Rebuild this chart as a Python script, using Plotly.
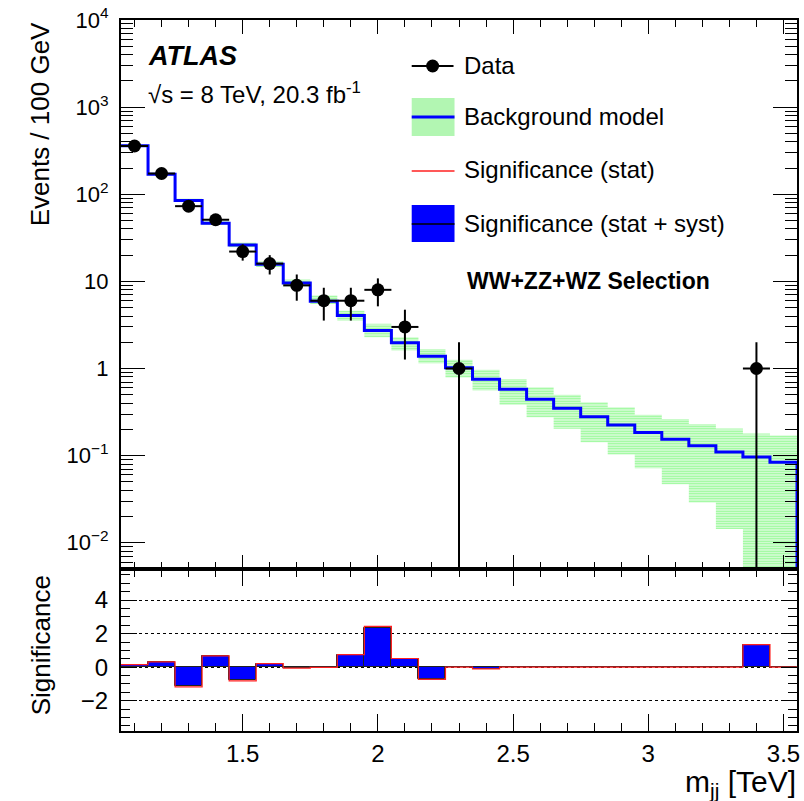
import math
import plotly.graph_objects as go

# ---------------- data ----------------
centers = [1.1, 1.2, 1.3, 1.4, 1.5, 1.6, 1.7, 1.8, 1.9, 2.0, 2.1, 2.2, 2.3,
           2.4, 2.5, 2.6, 2.7, 2.8, 2.9, 3.0, 3.1, 3.2, 3.3, 3.4, 3.5]
data_counts = [358, 173, 73, 51, 22, 16, 9, 6, 6, 8, 3, 0, 1,
               0, 0, 0, 0, 0, 0, 0, 0, 0, 0, 1, 0]
bkg = [360, 170, 85, 46.5, 26.2, 15.7, 9.6, 5.9, 4.07, 2.73, 1.97, 1.38, 1.02,
       0.753, 0.578, 0.443, 0.35, 0.279, 0.225, 0.184, 0.154, 0.13, 0.11, 0.0966, 0.0838]
bkg_hi = [372, 176, 89, 48.8, 27.9, 16.9, 10.6, 6.9, 4.6, 3.26, 2.29, 1.68, 1.26,
          0.97, 0.76, 0.61, 0.50, 0.41, 0.36, 0.294, 0.264, 0.231, 0.205, 0.18, 0.17]
bkg_lo = [349, 164, 81.5, 44.4, 24.7, 14.6, 8.8, 5.5, 3.53, 2.29, 1.61, 1.15, 0.79,
          0.56, 0.385, 0.275, 0.203, 0.142, 0.103, 0.0715, 0.047, 0.029, 0.0144, 0.001, 0.001]
sig_stat_syst = [0.12, 0.30, -1.09, 0.66, -0.76, 0.20, -0.04, -0.01, 0.72, 2.33, 0.50, -0.68, 0.0,
                 -0.10, 0.0, 0.0, 0.0, 0.0, 0.0, 0.0, 0.0, 0.0, 0.0, 1.34, 0.0]
sig_stat = [0.15, 0.32, -1.17, 0.68, -0.82, 0.21, -0.05, -0.01, 0.75, 2.43, 0.52, -0.72, 0.0,
            -0.10, 0.0, 0.0, 0.0, 0.0, 0.0, 0.0, 0.0, 0.0, 0.0, 1.34, 0.0]

y_tick_vals = [0.01, 0.1, 1, 10, 100, 1000, 10000]
y_tick_text = ["10<sup>−2</sup>", "10<sup>−1</sup>", "1", "10",
               "10<sup>2</sup>", "10<sup>3</sup>", "10<sup>4</sup>"]
x_tick_vals = [1.5, 2.0, 2.5, 3.0, 3.5]
x_tick_text = ["1.5", "2", "2.5", "3", "3.5"]
sig_tick_vals = [-2, 0, 2, 4]
sig_tick_text = ["−2", "0", "2", "4"]

# ---------------- derived ----------------
half = 0.05
edges = [c - half for c in centers] + [centers[-1] + half]

def step(vals):
    return list(vals) + [vals[-1]]

pts = [(c, n) for c, n in zip(centers, data_counts) if n > 0]
dx = [p[0] for p in pts]
dy = [p[1] for p in pts]
err_up = [math.sqrt(n) for n in dy]
err_dn = [min(math.sqrt(n), n * 0.99999) for n in dy]

minor_log = [k * 10 ** e for e in range(-3, 4) for k in range(2, 10)]

FONT = "Liberation Sans, Arial, Helvetica, sans-serif"

fig = go.Figure()

# band
fig.add_trace(go.Scatter(x=edges, y=step(bkg_lo), mode="lines", line=dict(width=0, shape="hv"),
                         showlegend=False, hoverinfo="skip", xaxis="x", yaxis="y"))
fig.add_trace(go.Scatter(x=edges, y=step(bkg_hi), mode="lines", line=dict(width=0, shape="hv"),
                         fill="tonexty", fillcolor="rgba(0,0,0,0)",
                         fillpattern=dict(shape="-", fgcolor="#44f844", bgcolor="#e4fce4",
                                          size=2.5, solidity=0.5),
                         showlegend=False, hoverinfo="skip", xaxis="x", yaxis="y"))
# background model
fig.add_trace(go.Scatter(x=edges + [edges[-1]], y=step(bkg) + [1e-6], mode="lines",
                         line=dict(color="#0000ff", width=3, shape="hv"),
                         showlegend=False, xaxis="x", yaxis="y"))
# data
fig.add_trace(go.Scatter(x=dx, y=dy, mode="markers",
                         marker=dict(color="black", size=13, symbol="circle"),
                         error_y=dict(type="data", array=err_up, arrayminus=err_dn,
                                      color="black", thickness=2, width=0),
                         error_x=dict(type="data", array=[half] * len(dx),
                                      color="black", thickness=2, width=0),
                         showlegend=False, xaxis="x", yaxis="y"))

# significance
fig.add_trace(go.Bar(x=centers, y=sig_stat_syst, width=0.1,
                     marker=dict(color="#0000ff", line=dict(color="#222222", width=1)),
                     showlegend=False, xaxis="x2", yaxis="y2"))
fig.add_trace(go.Scatter(x=edges, y=step(sig_stat), mode="lines",
                         line=dict(color="#ff2020", width=1.2, shape="hv"),
                         showlegend=False, xaxis="x2", yaxis="y2"))

L, R, T, B = 121, 800, 20, 731
W, H = 804, 801
split = 569
def px_x(p):
    return (p - L) / (R - L)
def px_y(p):
    return (B - p) / (B - T)
frac = px_y(split)

axis_common = dict(showline=True, linecolor="black", linewidth=2, mirror="ticks",
                   ticks="inside", tickcolor="black", tickwidth=1.3, showgrid=False,
                   zeroline=False)

fig.update_layout(
    width=W, height=H,
    margin=dict(l=L, r=W - R, t=T, b=H - B),
    paper_bgcolor="white", plot_bgcolor="white",
    font=dict(family=FONT, color="black"),
    bargap=0,
    xaxis=dict(domain=[0, 1], anchor="y", range=[1.05, 3.55], showticklabels=False,
               tickmode="array", tickvals=x_tick_vals, ticklen=14,
               minor=dict(dtick=0.1, tick0=1.0, ticklen=7, ticks="inside",
                          tickcolor="black", tickwidth=1.3),
               **axis_common),
    yaxis=dict(domain=[frac, 1], anchor="x", type="log", range=[math.log10(0.005), 4],
               tickmode="array", tickvals=y_tick_vals, ticktext=y_tick_text,
               tickfont=dict(size=22), ticklen=24, ticklabelstandoff=6,
               minor=dict(tickmode="array", tickvals=minor_log, ticklen=12,
                          ticks="inside", tickcolor="black", tickwidth=1.3),
               **axis_common),
    xaxis2=dict(domain=[0, 1], anchor="y2", range=[1.05, 3.55], matches="x",
                tickmode="array", tickvals=x_tick_vals, ticktext=x_tick_text,
                tickfont=dict(size=24), ticklen=17,
                minor=dict(dtick=0.1, tick0=1.0, ticklen=8, ticks="inside",
                           tickcolor="black", tickwidth=1.3),
                **axis_common),
    yaxis2=dict(domain=[0, frac], anchor="x2", range=[-3.8, 5.85],
                tickmode="array", tickvals=sig_tick_vals, ticktext=sig_tick_text,
                tickfont=dict(size=24), ticklen=16, ticklabelstandoff=6,
                minor=dict(dtick=0.5, tick0=0, ticklen=9, ticks="inside",
                           tickcolor="black", tickwidth=1.3),
                **{k: v for k, v in axis_common.items() if k != "showgrid"},
                showgrid=True, gridcolor="black", gridwidth=1, griddash="dot"),
)

shapes = []
ann = []
# legend: Data
shapes.append(dict(type="line", xref="paper", yref="paper", x0=px_x(413), x1=px_x(455),
                   y0=px_y(66), y1=px_y(66), line=dict(color="black", width=2)))
shapes.append(dict(type="circle", xref="paper", yref="paper", x0=px_x(427.5), x1=px_x(440.5),
                   y0=px_y(72.5), y1=px_y(59.5), fillcolor="black", line=dict(color="black", width=0)))
# Background model
shapes.append(dict(type="rect", xref="paper", yref="paper", x0=px_x(413), x1=px_x(456),
                   y0=px_y(136), y1=px_y(98), fillcolor="#b2f6b2", line=dict(width=0)))
shapes.append(dict(type="line", xref="paper", yref="paper", x0=px_x(413), x1=px_x(456),
                   y0=px_y(117), y1=px_y(117), line=dict(color="#0000ff", width=3)))
# Significance (stat)
shapes.append(dict(type="line", xref="paper", yref="paper", x0=px_x(413), x1=px_x(456),
                   y0=px_y(171), y1=px_y(171), line=dict(color="#ff2020", width=1.5)))
# Significance (stat + syst)
shapes.append(dict(type="rect", xref="paper", yref="paper", x0=px_x(413), x1=px_x(456),
                   y0=px_y(242), y1=px_y(205), fillcolor="#0000ff", line=dict(width=0)))
shapes.append(dict(type="line", xref="paper", yref="paper", x0=px_x(413), x1=px_x(456),
                   y0=px_y(224), y1=px_y(224), line=dict(color="black", width=1.5)))

for text, yc in [("Data", 66), ("Background model", 117),
                 ("Significance (stat)", 170), ("Significance (stat + syst)", 223)]:
    ann.append(dict(text=text, xref="paper", yref="paper", x=px_x(464), y=px_y(yc),
                    xanchor="left", yanchor="middle", showarrow=False,
                    font=dict(size=24, family=FONT)))
ann.append(dict(text="<b>WW+ZZ+WZ Selection</b>", xref="paper", yref="paper",
                x=px_x(467), y=px_y(281), xanchor="left", yanchor="middle",
                showarrow=False, font=dict(size=23, family=FONT)))
ann.append(dict(text="<b><i>ATLAS</i></b>", xref="paper", yref="paper",
                x=px_x(146), y=px_y(56), xanchor="left", yanchor="middle",
                showarrow=False, font=dict(size=27, family=FONT)))
ann.append(dict(text="√s = 8 TeV, 20.3 fb<sup>-1</sup>", xref="paper", yref="paper",
                x=px_x(146), y=px_y(93), xanchor="left", yanchor="middle",
                showarrow=False, font=dict(size=24, family=FONT)))
ann.append(dict(text="Events / 100 GeV", xref="paper", yref="paper",
                x=px_x(40), y=px_y(20), xanchor="center", yanchor="top", textangle=-90,
                showarrow=False, font=dict(size=26, family=FONT)))
ann.append(dict(text="Significance", xref="paper", yref="paper",
                x=px_x(41), y=px_y(573), xanchor="center", yanchor="top", textangle=-90,
                showarrow=False, font=dict(size=26, family=FONT)))
ann.append(dict(text="m<sub>jj</sub> [TeV]", xref="paper", yref="paper",
                x=px_x(801), y=px_y(784), xanchor="right", yanchor="middle",
                showarrow=False, font=dict(size=30, family=FONT)))

fig.update_layout(shapes=shapes, annotations=ann)
fig.write_html("out.html", config={"displayModeBar": False},
               post_script="document.body.style.margin='0';document.body.style.padding='0';"
                           "document.body.style.overflow='hidden';")
